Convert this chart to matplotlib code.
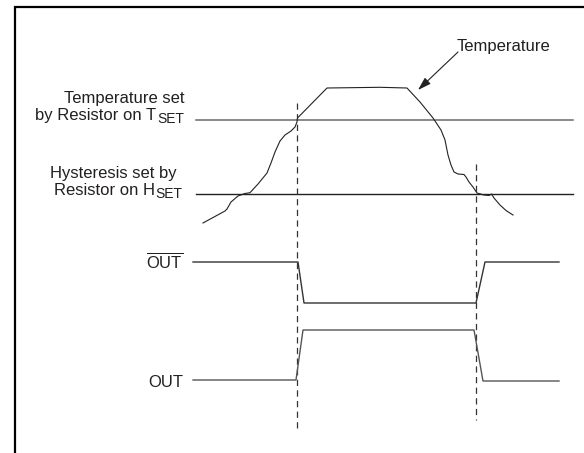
import matplotlib
matplotlib.use("Agg")
import matplotlib.pyplot as plt
from matplotlib.patches import FancyArrowPatch

plt.rcParams['font.family'] = ['Liberation Sans', 'DejaVu Sans']
plt.rcParams['mathtext.fontset'] = 'custom'
plt.rcParams['mathtext.rm'] = 'Liberation Sans'
plt.rcParams['mathtext.it'] = 'Liberation Sans:italic'
plt.rcParams['mathtext.bf'] = 'Liberation Sans:bold'

# ---- data (diagram units: x = time, y = level, drawn in a 584 x 453 canvas) ----
temp_t = [203, 225, 227, 231, 238, 245, 250, 258, 267, 271, 275, 280, 285, 291, 295,
          297, 297.5, 327, 380, 407, 420, 433, 441, 445, 448, 451, 454, 458, 464, 466,
          469, 473, 477, 484, 489, 491.5, 494, 500, 506, 513]
temp_v = [223, 211, 209, 202, 196, 193.5, 192.7, 184, 173, 163, 152, 141, 135, 131, 127,
          122, 118, 88, 87.3, 88, 102, 118, 130, 140, 155, 165, 172, 174, 174.5, 177,
          182, 187, 193, 195, 195.5, 194, 198, 205, 210.5, 215]

tset_level = 120
hset_level = 194
thresh_x = [196, 573]

outbar_t = [193, 298, 304, 476, 485, 559]
outbar_v = [262, 262, 303, 303, 262, 262]

out_t = [193, 296, 303, 474, 483, 559]
out_v = [380, 380, 330, 330, 381, 381]

trip_x = [297, 476]
trip_top = [103, 164]
trip_bottom = [432, 420]

labels_tset = ["Temperature set", "by Resistor on T", "SET"]
labels_hset = ["Hysteresis set by", "Resistor on H", "SET"]
label_outbar = r"$\overline{\mathrm{OUT}}$"
label_out = "OUT"
label_temp = "Temperature"

W, H = 584, 453
fig = plt.figure(figsize=(W / 100, H / 100), dpi=100)
ax = fig.add_axes([0, 0, 1, 1])
ax.set_xlim(0, W)
ax.set_ylim(H, 0)
ax.axis('off')

txt_col = '#231f20'
fs = 12
fs_sub = 10
renderer = fig.canvas.get_renderer()

# frame (cropped box)
ax.plot([14.7, 14.7, W + 10], [H + 10, 6.7, 6.7], color='black', lw=1.6,
        solid_joinstyle='miter', solid_capstyle='butt')

# threshold lines
ax.plot(thresh_x, [tset_level, tset_level], color='#6a6a6a', lw=1.1)
ax.plot(thresh_x, [hset_level, hset_level], color='#222222', lw=1.0)

# temperature curve
ax.plot(temp_t, temp_v, color='#222222', lw=0.8)

# trip dashed lines
for x, y0, y1 in zip(trip_x, trip_top, trip_bottom):
    ax.plot([x, x], [y0, y1], color='#333333', lw=0.9, dashes=(5, 3.5))

# output signals
ax.plot(outbar_t, outbar_v, color='#333333', lw=1.0)
ax.plot(out_t, out_v, color='#555555', lw=1.0)


def label_with_sub(x_right, y_base, main, sub):
    s = ax.text(x_right, y_base + 3, sub, ha='right', va='baseline',
                fontsize=fs_sub, color=txt_col)
    w = s.get_window_extent(renderer=renderer).width
    ax.text(x_right - w - 0.5, y_base, main, ha='right', va='baseline',
            fontsize=fs, color=txt_col)


# labels
ax.text(184, 103, labels_tset[0], ha='right', va='baseline', fontsize=fs, color=txt_col)
label_with_sub(184, 120, labels_tset[1], labels_tset[2])
ax.text(177, 178, labels_hset[0], ha='right', va='baseline', fontsize=fs, color=txt_col)
label_with_sub(182, 195, labels_hset[1], labels_hset[2])
ax.text(183, 268, label_outbar, ha='right', va='baseline', fontsize=fs, color=txt_col)
ax.text(183, 387, label_out, ha='right', va='baseline', fontsize=fs, color=txt_col)
ax.text(457, 51, label_temp, ha='left', va='baseline', fontsize=fs, color=txt_col)

# arrow to curve
arr = FancyArrowPatch((458, 52), (418, 90), arrowstyle='-|>,head_length=0.8,head_width=0.25',
                      mutation_scale=10, color='#222222', lw=0.8, shrinkA=0, shrinkB=0)
ax.add_patch(arr)

fig.savefig('out.png', dpi=100)
